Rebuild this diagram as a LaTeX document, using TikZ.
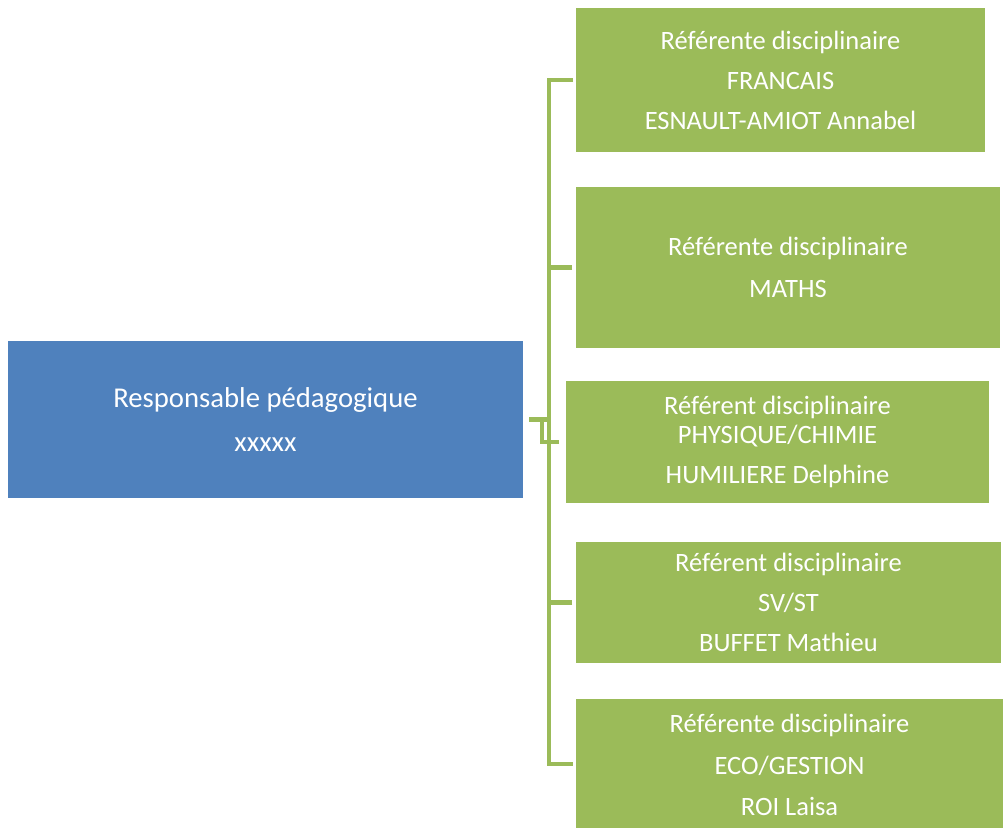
\documentclass[tikz,border=0pt]{standalone}
\usepackage{fontspec}
\setmainfont{Carlito}
\usetikzlibrary{calc}
\definecolor{bblue}{HTML}{4F81BD}
\definecolor{ggreen}{HTML}{9BBB59}
\begin{document}
\begin{tikzpicture}[x=1pt,y=-1pt,
  box/.style={rectangle, inner sep=0pt, outer sep=0pt, anchor=north west, text=white, align=center},
  bluebox/.style={box, fill=bblue, font=\fontsize{28.7}{44}\selectfont},
  greenbox/.style={box, fill=ggreen, font=\fontsize{26.5}{40}\selectfont},
  conn/.style={draw=ggreen, line width=4.5pt}]
\useasboundingbox (0,0) rectangle (1006,827);
\node[bluebox, minimum width=515pt, minimum height=157pt] (resp) at (8,341)
  {Responsable pédagogique\\ xxxxx};
\node[greenbox, minimum width=409pt, minimum height=144pt] (f1) at (576,8)
  {Référente disciplinaire\\ FRANCAIS\\ ESNAULT-AMIOT Annabel};
\node[greenbox, minimum width=424pt, minimum height=161pt] (f2) at (576,187)
  {Référente disciplinaire\\[2pt] MATHS};
\node[greenbox, minimum width=423pt, minimum height=122pt] (f3) at (566,381)
  {Référent disciplinaire\\[-11pt] PHYSIQUE/CHIMIE\\ HUMILIERE Delphine};
\node[greenbox, minimum width=425pt, minimum height=121pt] (f4) at (576,542)
  {Référent disciplinaire\\ SV/ST\\ BUFFET Mathieu};
\node[greenbox, minimum width=427pt, minimum height=132pt] (f5) at (576,699)
  {Référente disciplinaire\\[1.5pt] ECO/GESTION\\[1.5pt] ROI Laisa};
\coordinate (top) at ([xshift=-27pt]f1.west);
% spine with top and bottom ticks
\draw[conn] ([xshift=-3pt]f1.west) -- (top) |- ([xshift=-3pt,yshift=1pt]f5.west);
% ticks to boxes 2 and 4
\draw[conn] ([xshift=-4pt]f2.west) -- (f2.west -| top);
\draw[conn] ([xshift=-4pt]f4.west) -- (f4.west -| top);
% parent link
\draw[conn] ([xshift=6pt]resp.east) -- (resp.east -| top);
% box 3 link
\draw[conn] ([xshift=-7pt]f3.west) -- ++(-17,0) -- ++(0,-23);
\end{tikzpicture}
\end{document}
